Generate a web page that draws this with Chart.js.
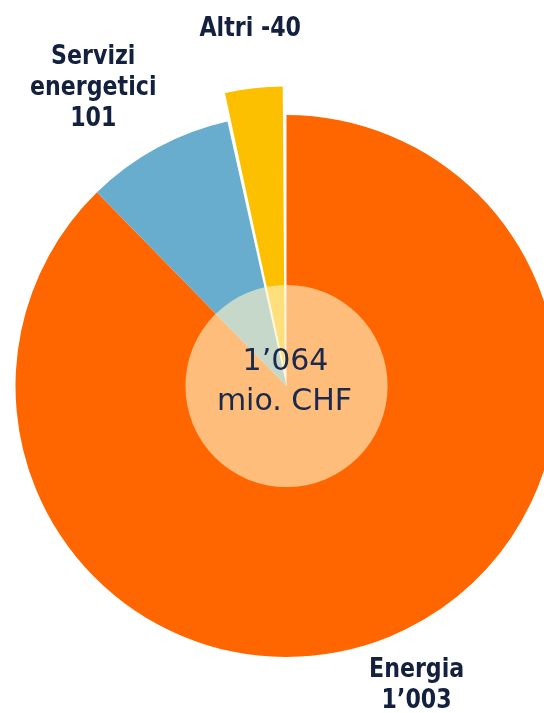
<!DOCTYPE html>
<html>
<head>
<meta charset="utf-8">
<script src="https://cdn.jsdelivr.net/npm/chart.js@4"></script>
<style>
  html, body { margin: 0; padding: 0; background: #ffffff; }
  #wrap { width: 544px; height: 713px; position: relative; }
</style>
</head>
<body>
<div id="wrap"><canvas id="c"></canvas></div>
<script>
// ---- data ----
const categories = [["Energia"], ["Servizi", "energetici"], ["Altri"]];
const values = [1003, 101, -40];
const colors = ["#FF6600", "#68ADCE", "#FCC000"];
const centerUnit = "mio. CHF";

function fmt(v) {
  const s = String(Math.abs(v));
  const out = s.replace(/\B(?=(\d{3})+(?!\d))/g, "\u2019");
  return (v < 0 ? "-" : "") + out;
}

// label layout (distance in radii, angular turn in degrees from slice bisector)
const labelLayout = [
  { dist: 1.205, turn: -1.3, inline: false },
  { dist: 1.31, turn: -4.5, inline: false },
  { dist: 1.326, turn: 0.5, inline: true }
];

const labelsPlugin = {
  id: "sliceLabels",
  afterDatasetsDraw(chart) {
    const ctx = chart.ctx;
    const meta = chart.getDatasetMeta(0);
    const first = meta.data[0];
    const cx = first.x, cy = first.y, R = first.outerRadius;

    // center translucent disc
    ctx.save();
    ctx.beginPath();
    ctx.arc(cx, cy, R * 0.373, 0, Math.PI * 2);
    ctx.fillStyle = "rgba(255,242,200,0.62)";
    ctx.fill();
    ctx.restore();

    // center text
    const total = values.reduce((a, b) => a + b, 0);
    ctx.save();
    ctx.fillStyle = "#1b2a4c";
    ctx.textAlign = "center";
    ctx.textBaseline = "middle";
    ctx.font = "30px 'DejaVu Sans'";
    ctx.fillText(fmt(total), cx - 1, cy - 23.5);
    ctx.fillText(centerUnit, cx - 2, cy + 16);
    ctx.restore();

    // slice labels
    meta.data.forEach((arc, i) => {
      const p = arc.getProps(["startAngle", "endAngle"], true);
      const L = labelLayout[i];
      const a = (p.startAngle + p.endAngle) / 2 + L.turn * Math.PI / 180;
      const x = cx + Math.cos(a) * R * L.dist;
      const y = cy + Math.sin(a) * R * L.dist;
      let lines = categories[i].slice();
      if (L.inline) {
        lines[lines.length - 1] = lines[lines.length - 1] + " " + fmt(values[i]);
      } else {
        lines.push(fmt(values[i]));
      }
      const lh = 31;
      ctx.save();
      ctx.fillStyle = "#13213f";
      ctx.textAlign = "center";
      ctx.textBaseline = "middle";
      ctx.font = "bold 27px 'DejaVu Sans'";
      lines.forEach((t, k) => {
        const ly = y + (k - (lines.length - 1) / 2) * lh;
        ctx.save();
        ctx.translate(x, ly);
        ctx.scale(0.82, 1);
        ctx.fillText(t, 0, 0);
        ctx.restore();
      });
      ctx.restore();
    });
  }
};

new Chart(document.getElementById("c"), {
  type: "pie",
  data: {
    labels: categories.map(c => c.join(" ")),
    datasets: [{
      data: values.map(v => Math.abs(v)),
      backgroundColor: colors,
      borderWidth: 0,
      offset: [0, 0, 64],
      clip: false
    }]
  },
  options: {
    responsive: true,
    maintainAspectRatio: false,
    animation: false,
    radius: 271,
    layout: { padding: { left: 29, right: 0, top: 59, bottom: 0 } },
    plugins: { legend: { display: false }, tooltip: { enabled: false } }
  },
  plugins: [labelsPlugin]
});
</script>
</body>
</html>
